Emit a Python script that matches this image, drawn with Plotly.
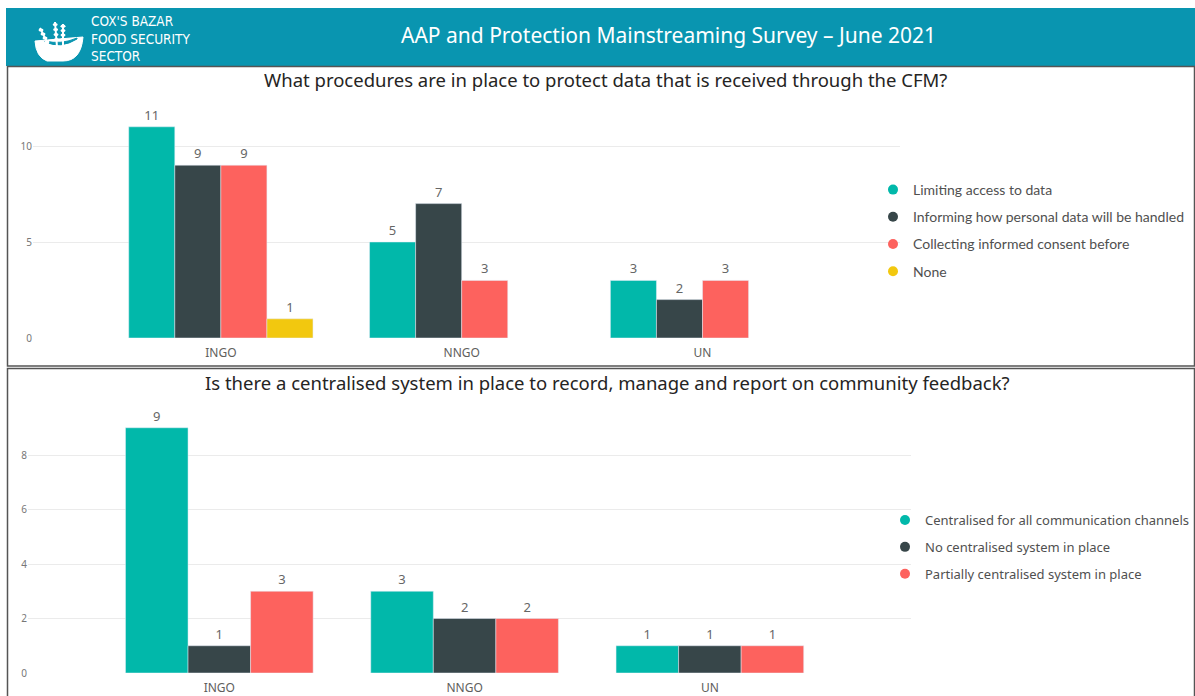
import plotly.graph_objects as go

W, H = 1195, 696

# ---------------- data ----------------
categories = ["INGO", "NNGO", "UN"]

q1_title = "What procedures are in place to protect data that is received through the CFM?"
q1_series = ["Limiting access to data", "Informing how personal data will be handled",
             "Collecting informed consent before", "None"]
q1_values = {
    "Limiting access to data": [11, 5, 3],
    "Informing how personal data will be handled": [9, 7, 2],
    "Collecting informed consent before": [9, 3, 3],
    "None": [1, None, None],
}

q2_title = "Is there a centralised system in place to record, manage and report on community feedback?"
q2_series = ["Centralised for all communication channels", "No centralised system in place",
             "Partially centralised system in place"]
q2_values = {
    "Centralised for all communication channels": [9, 3, 1],
    "No centralised system in place": [1, 2, 1],
    "Partially centralised system in place": [3, 2, 1],
}

colors = ["#01B8AA", "#374649", "#FD625E", "#F2C80F"]

header_title = "AAP and Protection Mainstreaming Survey – June 2021"
logo_text = "COX'S BAZAR<br>FOOD SECURITY<br>SECTOR"

# ---------------- helpers ----------------
def px_x(p):
    return p / W

def px_y(p):
    return 1 - p / H

fig = go.Figure()

# top chart bars
for i, s in enumerate(q1_series):
    vals = q1_values[s]
    fig.add_trace(go.Bar(
        x=categories, y=vals, name=s, marker_color=colors[i], xaxis="x", yaxis="y",
        text=[("" if v is None else str(v)) for v in vals], textposition="outside",
        cliponaxis=False, textfont=dict(size=13, color="#666666", family="Noto Sans"),
        showlegend=False,
    ))
    fig.add_trace(go.Scatter(
        x=[None], y=[None], mode="markers", name=s, legend="legend", legendgroup="a%d" % i,
        marker=dict(symbol="circle", size=10, color=colors[i]), xaxis="x", yaxis="y",
    ))

# bottom chart bars
for i, s in enumerate(q2_series):
    vals = q2_values[s]
    fig.add_trace(go.Bar(
        x=categories, y=vals, name=s, marker_color=colors[i], xaxis="x2", yaxis="y2",
        text=[str(v) for v in vals], textposition="outside",
        cliponaxis=False, textfont=dict(size=13, color="#666666", family="Noto Sans"),
        showlegend=False,
    ))
    fig.add_trace(go.Scatter(
        x=[None], y=[None], mode="markers", name=s, legend="legend2", legendgroup="b%d" % i,
        marker=dict(symbol="circle", size=10, color=colors[i]), xaxis="x2", yaxis="y2",
    ))

tickfont = dict(size=10, color="#777777", family="Noto Sans")
catfont = dict(size=12, color="#605E5C", family="Noto Sans")

fig.update_layout(
    width=W, height=H, margin=dict(l=0, r=0, t=0, b=0, autoexpand=False),
    paper_bgcolor="white", plot_bgcolor="white",
    barmode="group", bargap=0.235, bargroupgap=0,
    xaxis=dict(domain=[px_x(33), px_x(900)], range=[-0.78, 2.82], anchor="y",
               tickfont=catfont, showgrid=False, showline=False, ticks="", ticklabelstandoff=6),
    yaxis=dict(domain=[px_y(338), px_y(100)], range=[0, 238 / 19.2], anchor="x",
               tickvals=[0, 5, 10], tickfont=tickfont, gridcolor="#EBEBEB",
               zeroline=False, showline=False, ticks=""),
    xaxis2=dict(domain=[px_x(28), px_x(911)], range=[-0.78, 2.82], anchor="y2",
                tickfont=catfont, showgrid=False, showline=False, ticks="", ticklabelstandoff=6),
    yaxis2=dict(domain=[px_y(673), px_y(405)], range=[0, 268 / 27.25], anchor="x2",
                tickvals=[0, 2, 4, 6, 8], tickfont=tickfont, gridcolor="#EBEBEB",
                zeroline=False, showline=False, ticks=""),
    legend=dict(x=px_x(873), y=px_y(174), xanchor="left", yanchor="top",
                font=dict(size=14, color="#505050", family="Lato"),
                tracegroupgap=6, bgcolor="rgba(0,0,0,0)", itemwidth=30),
    legend2=dict(x=px_x(885), y=px_y(505), xanchor="left", yanchor="top",
                 font=dict(size=13, color="#505050", family="Noto Sans"),
                 tracegroupgap=7, bgcolor="rgba(0,0,0,0)", itemwidth=30),
    showlegend=True,
)

shapes = []
# header band
shapes.append(dict(type="rect", xref="paper", yref="paper", x0=px_x(6), x1=1, y0=px_y(66), y1=px_y(8),
                   fillcolor="#0995B0", line=dict(width=0), layer="below"))
# panels
shapes.append(dict(type="rect", xref="paper", yref="paper", x0=px_x(7.5), x1=px_x(1194.5),
                   y0=px_y(366), y1=px_y(66.5), line=dict(color="#555555", width=1.5),
                   fillcolor="rgba(0,0,0,0)"))
shapes.append(dict(type="rect", xref="paper", yref="paper", x0=px_x(7.5), x1=px_x(1194.5),
                   y0=px_y(697), y1=px_y(368.5), line=dict(color="#555555", width=1.5),
                   fillcolor="rgba(0,0,0,0)"))
# logo: bowl
bx, by = 35, 41
path = (f"M {px_x(bx)},{px_y(by)} L {px_x(bx+48)},{px_y(by-4)} "
        f"Q {px_x(bx+46)},{px_y(by+20)} {px_x(bx+28)},{px_y(by+20)} "
        f"L {px_x(bx+12)},{px_y(by+20)} Q {px_x(bx+1)},{px_y(by+16)} {px_x(bx)},{px_y(by)} Z")
shapes.append(dict(type="path", xref="paper", yref="paper", path=path,
                   fillcolor="white", line=dict(color="white", width=1)))
path2 = (f"M {px_x(bx+10)},{px_y(by+1)} Q {px_x(bx+26)},{px_y(by+8)} {px_x(bx+42)},{px_y(by-2)} "
         f"L {px_x(bx+42)},{px_y(by-3)} Q {px_x(bx+26)},{px_y(by+4)} {px_x(bx+10)},{px_y(by)} Z")
shapes.append(dict(type="path", xref="paper", yref="paper", path=path2,
                   fillcolor="#0995B0", line=dict(color="#0995B0", width=1)))
# logo: wheat stalks
for (x0, y0, x1, y1) in [(50, 48, 40, 28), (57, 47, 55, 22), (63, 46, 63, 24)]:
    shapes.append(dict(type="line", xref="paper", yref="paper", x0=px_x(x0), y0=px_y(y0),
                       x1=px_x(x1), y1=px_y(y1), line=dict(color="white", width=2)))
    for k in range(4):
        t = 0.3 + k * 0.2
        cx = x0 + (x1 - x0) * t
        cy = y0 + (y1 - y0) * t
        shapes.append(dict(type="circle", xref="paper", yref="paper",
                           x0=px_x(cx - 2.5), x1=px_x(cx + 2.5), y0=px_y(cy + 1.6), y1=px_y(cy - 1.6),
                           fillcolor="white", line=dict(width=0)))
fig.update_layout(shapes=shapes)

annotations = [
    dict(text=header_title, x=px_x(668), y=px_y(35), xref="paper", yref="paper",
         showarrow=False, font=dict(size=21, color="white", family="Noto Sans"),
         xanchor="center", yanchor="middle"),
    dict(text=q1_title, x=px_x(606), y=px_y(80), xref="paper", yref="paper", showarrow=False,
         font=dict(size=18.5, color="#252423", family="Noto Sans"), xanchor="center", yanchor="middle"),
    dict(text=q2_title, x=px_x(607), y=px_y(382), xref="paper", yref="paper", showarrow=False,
         font=dict(size=18.5, color="#252423", family="Noto Sans"), xanchor="center", yanchor="middle"),
    dict(text=logo_text, x=px_x(89), y=px_y(38), xref="paper", yref="paper",
         showarrow=False, align="left",
         font=dict(size=13.5, color="white", family="DejaVu Sans Condensed"),
         xanchor="left", yanchor="middle"),
]
fig.update_layout(annotations=annotations)

fig.write_html("out.html")
